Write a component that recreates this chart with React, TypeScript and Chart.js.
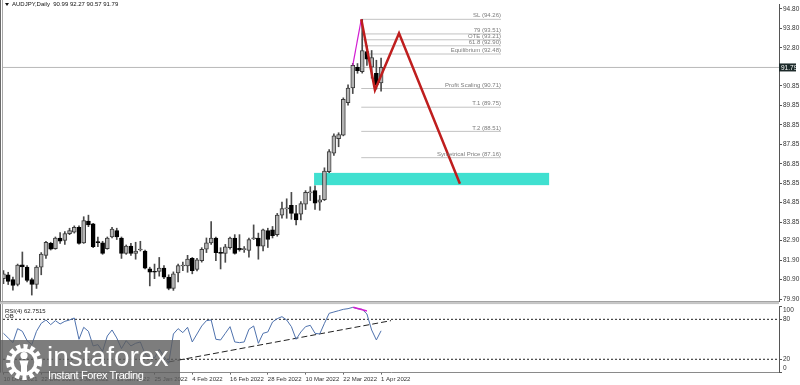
import React, { useEffect, useRef } from 'react';
import { Chart, registerables } from 'chart.js';

Chart.register(...registerables);

const FONT = '"Liberation Sans", Arial, sans-serif';

// ---- data ----
const dateTickBars = [0, 8, 16, 24, 32, 40, 48, 56, 64, 72, 80];
const dateLabels = ['10 Dec 2021', '22 Dec 2021', '3 Jan 2022', '13 Jan 2022', '25 Jan 2022', '4 Feb 2022', '16 Feb 2022', '28 Feb 2022', '10 Mar 2022', '22 Mar 2022', '1 Apr 2022'];

const opens = [80.95, 81.15, 80.90, 80.65, 81.66, 81.54, 80.91, 80.65, 81.54, 82.15, 82.76, 82.49, 83.04, 82.92, 83.26, 83.34, 83.59, 82.79, 83.91, 83.76, 82.82, 82.79, 82.49, 83.09, 83.42, 83.04, 82.25, 82.62, 82.25, 82.42, 82.37, 81.45, 81.30, 81.32, 81.49, 81.03, 80.45, 81.25, 81.60, 81.60, 81.99, 81.42, 81.87, 82.46, 82.79, 83.04, 82.27, 82.25, 82.54, 83.04, 82.51, 82.44, 82.40, 83.00, 83.04, 82.62, 83.42, 83.46, 83.21, 84.21, 84.53, 84.71, 84.29, 84.26, 84.77, 85.35, 85.47, 84.88, 85.00, 86.44, 87.39, 88.14, 88.31, 89.98, 90.74, 91.79, 91.57, 92.60, 91.80, 91.49, 90.99];
const highs = [81.37, 81.28, 81.03, 81.70, 82.32, 81.62, 80.98, 81.62, 82.29, 82.87, 82.82, 83.09, 83.32, 83.37, 83.54, 83.66, 83.66, 84.13, 84.21, 83.79, 83.09, 82.87, 83.09, 83.59, 83.54, 83.09, 82.68, 82.76, 82.82, 82.87, 82.42, 81.54, 81.70, 82.04, 81.62, 81.15, 81.30, 81.70, 81.80, 82.15, 82.04, 82.00, 82.54, 83.04, 83.88, 83.09, 82.54, 82.71, 83.09, 83.21, 83.21, 82.60, 83.04, 83.71, 83.29, 83.49, 83.54, 83.63, 84.30, 84.88, 85.05, 85.38, 84.71, 84.91, 85.47, 85.67, 85.72, 85.22, 86.64, 87.57, 88.39, 88.44, 90.23, 90.90, 92.00, 91.99, 94.26, 92.90, 92.66, 92.16, 92.27];
const lows = [80.70, 80.65, 80.36, 80.58, 81.03, 80.78, 80.11, 80.45, 81.15, 81.99, 82.42, 82.46, 82.76, 82.71, 83.21, 83.29, 82.72, 82.76, 83.62, 82.54, 82.59, 82.20, 82.46, 83.04, 82.96, 81.99, 82.20, 82.15, 81.95, 82.37, 81.45, 80.58, 80.95, 81.08, 80.95, 80.38, 80.35, 80.78, 81.36, 81.28, 81.20, 81.35, 81.80, 82.29, 82.71, 81.87, 81.45, 81.79, 82.46, 82.21, 82.36, 82.30, 82.05, 82.96, 81.95, 82.37, 82.55, 83.04, 83.13, 84.05, 84.05, 84.00, 83.71, 83.96, 84.50, 84.96, 84.50, 84.46, 84.96, 86.39, 87.27, 87.72, 88.28, 89.85, 90.45, 91.49, 91.50, 91.90, 91.24, 90.68, 90.57];
const closes = [81.20, 80.81, 80.60, 81.65, 81.55, 80.86, 80.65, 81.54, 82.21, 82.82, 82.46, 83.04, 82.87, 83.26, 83.42, 83.59, 82.76, 83.93, 83.71, 82.59, 82.80, 82.25, 83.04, 83.49, 83.09, 82.25, 82.62, 82.25, 82.37, 82.45, 81.49, 81.28, 81.28, 81.49, 81.03, 80.45, 81.20, 81.62, 81.64, 81.95, 81.36, 81.92, 82.46, 82.79, 83.04, 82.29, 82.25, 82.59, 83.04, 82.25, 82.42, 82.47, 82.96, 83.04, 82.62, 83.46, 82.96, 83.16, 84.21, 84.55, 84.56, 84.30, 83.96, 84.81, 85.38, 85.38, 84.83, 85.00, 86.47, 87.47, 88.28, 88.34, 90.15, 90.73, 91.90, 91.62, 92.66, 92.22, 92.30, 90.90, 91.79];

const rsiValues = [59, 52, 45, 66, 62, 48, 42, 62, 74, 79, 72, 78, 73, 77, 79, 82, 50, 68, 62, 40, 42, 32, 55, 64, 52, 36, 48, 40, 44, 46, 28, 22, 22, 35, 24, 14, 58, 66, 60, 68, 46, 58, 70, 78, 79, 50, 49, 59, 69, 46, 45, 46, 65, 70, 44, 59, 61, 76, 81, 84, 79, 69, 50, 61, 69, 71, 59, 58, 74, 89, 91, 93, 95, 96, 98, 96, 95, 88, 64, 49, 62.7515];

const priceTicks = [94.8, 93.8, 92.8, 90.85, 89.85, 88.85, 87.85, 86.85, 85.85, 84.85, 83.85, 82.9, 81.9, 80.9, 79.9];
const lastPrice = 91.79;

const fibNames = ['SL', '79', 'OTE', '61.8', 'Equilibrium', 'Profit Scaling', 'T.1', 'T.2', 'Symetrical Price'];
const fibLevels = [94.26, 93.51, 93.21, 92.9, 92.48, 90.71, 89.75, 88.51, 87.16];
const fibFromBar = 75.8;
const fibToBar = 105.4;

const zigzagBars = [75.8, 78.7, 83.8, 96.7];
const zigzagPrices = [94.26, 90.63, 93.54, 85.82];
const impulseBars = [74, 75.8];
const impulsePrices = [91.9, 94.26];

const zoneBars = [65.8, 115.6];
const zonePrices = [85.75, 86.38];

const rsiLevels = [80, 20];
const rsiTrendBars = [35, 82.1];
const rsiTrendValues = [16, 78];
const rsiDivBars = [74.1, 77];
const rsiDivValues = [98, 92.4];

const X_MIN = -0.1;
const X_MAX = 164.3;
const P_MIN = 79.8;
const P_MAX = 95.0;

// ---- helpers ----
const drawLeftBorder = (ctx: CanvasRenderingContext2D, h: number) => {
  ctx.fillStyle = '#6a6a6a';
  ctx.fillRect(0, 0, 1, h);
  ctx.fillStyle = '#a8a8a8';
  ctx.fillRect(2, 0, 1, h);
};

const mainDecor = {
  id: 'mainDecor',
  beforeDatasetsDraw(chart: any) {
    const { ctx, scales } = chart;
    const x = scales.x, y = scales.y;
    const x0 = x.getPixelForValue(zoneBars[0]);
    const x1 = x.getPixelForValue(zoneBars[1]);
    const y0 = y.getPixelForValue(zonePrices[1]);
    const y1 = y.getPixelForValue(zonePrices[0]);
    ctx.save();
    ctx.fillStyle = '#40e0d0';
    ctx.fillRect(x0, y0, x1 - x0, y1 - y0);
    ctx.restore();
  },
  afterDraw(chart: any) {
    const { ctx, scales, chartArea } = chart;
    const x = scales.x, y = scales.y;
    ctx.save();
    drawLeftBorder(ctx, chart.height);
    // bottom border of main panel
    ctx.fillStyle = '#9a9a9a';
    ctx.fillRect(0, chartArea.bottom, chartArea.right, 1);
    ctx.fillStyle = '#c4c4c4';
    ctx.fillRect(0, chartArea.bottom + 1, chartArea.right, 2);

    // fib labels
    ctx.font = `6px ${FONT}`;
    ctx.fillStyle = '#7c7c7c';
    ctx.textAlign = 'right';
    ctx.textBaseline = 'bottom';
    const xr = x.getPixelForValue(fibToBar);
    fibLevels.forEach((lv, i) => {
      ctx.fillText(`${fibNames[i]} (${lv.toFixed(2)})`, xr, y.getPixelForValue(lv) - 0.5);
    });

    // title
    const n = opens.length - 1;
    ctx.fillStyle = '#111';
    ctx.beginPath();
    ctx.moveTo(5, 3);
    ctx.lineTo(9, 3);
    ctx.lineTo(7, 6);
    ctx.closePath();
    ctx.fill();
    ctx.font = `6px ${FONT}`;
    ctx.textAlign = 'left';
    ctx.textBaseline = 'middle';
    ctx.fillText(`AUDJPY,Daily  ${opens[n].toFixed(2)} ${highs[n].toFixed(2)} ${lows[n].toFixed(2)} ${closes[n].toFixed(2)}`, 12, 4.5);

    // last price label
    const py = y.getPixelForValue(lastPrice);
    ctx.fillStyle = '#1d2a2a';
    ctx.fillRect(chartArea.right, py - 4, 17, 8);
    ctx.fillStyle = '#ffffff';
    ctx.font = `6.5px ${FONT}`;
    ctx.fillText(lastPrice.toFixed(2), chartArea.right + 2, py + 0.5);
    ctx.restore();
  },
};

const rsiDecor = {
  id: 'rsiDecor',
  afterDraw(chart: any) {
    const { ctx, scales, chartArea } = chart;
    const y = scales.y;
    ctx.save();
    drawLeftBorder(ctx, chartArea.bottom);
    ctx.font = `6px ${FONT}`;
    ctx.fillStyle = '#222';
    ctx.textAlign = 'left';
    ctx.textBaseline = 'middle';
    ctx.fillText(`RSI(4) ${rsiValues[rsiValues.length - 1].toFixed(4)}`, 5, 5.5);
    ctx.fillText('OB', 5, 10.5);
    ctx.fillStyle = '#333';
    ctx.font = `6.5px ${FONT}`;
    const xl = chartArea.right + 4;
    ctx.fillText('100', xl, y.getPixelForValue(100) + 4);
    ctx.fillText('80', xl, y.getPixelForValue(80));
    ctx.fillText('20', xl, y.getPixelForValue(20));
    ctx.fillText('0', xl, y.getPixelForValue(0) - 4.5);
    ctx.restore();
  },
};

const pts = (xs: number[], ys: number[]) => xs.map((v, i) => ({ x: v, y: ys[i] }));

export default function App() {
  const mainRef = useRef<HTMLCanvasElement>(null);
  const rsiRef = useRef<HTMLCanvasElement>(null);

  useEffect(() => {
    const bull = closes.map((c, i) => c >= opens[i]);
    const bodyData = opens.map((o, i) => ({ x: i, y: [Math.min(o, closes[i]), Math.max(o, closes[i])] }));
    const wickData = opens.map((_, i) => ({ x: i, y: [lows[i], highs[i]] }));

    const main = new Chart(mainRef.current as HTMLCanvasElement, {
      type: 'bar',
      data: {
        datasets: [
          { type: 'line', data: pts(zigzagBars, zigzagPrices), borderColor: '#bf1e1e', borderWidth: 2.5, pointRadius: 0, order: 0 } as any,
          { type: 'line', data: pts(impulseBars, impulsePrices), borderColor: '#d21ed2', borderWidth: 1.2, pointRadius: 0, order: 0 } as any,
          {
            type: 'bar', data: bodyData,
            backgroundColor: bull.map((b) => (b ? '#b3b3b3' : '#000000')),
            borderColor: bull.map((b) => (b ? '#3c3c3c' : '#000000')),
            borderWidth: 1, barThickness: 4, minBarLength: 1, grouped: false, borderSkipped: false, order: 1,
          } as any,
          { type: 'bar', data: wickData, backgroundColor: '#4a4a4a', barThickness: 1, grouped: false, order: 2 } as any,
          ...fibLevels.map((lv) => ({ type: 'line', data: pts([fibFromBar, fibToBar], [lv, lv]), borderColor: '#c2c2c2', borderWidth: 1, pointRadius: 0, order: 3 } as any)),
          { type: 'line', data: pts([X_MIN, X_MAX], [lastPrice, lastPrice]), borderColor: '#b8b8b8', borderWidth: 1, pointRadius: 0, order: 4 } as any,
        ],
      },
      options: {
        responsive: false,
        maintainAspectRatio: false,
        animation: false,
        events: [],
        layout: { padding: { left: 3, right: 0, top: 0, bottom: 3 } },
        plugins: { legend: { display: false }, tooltip: { enabled: false } },
        scales: {
          x: { type: 'linear', min: X_MIN, max: X_MAX, display: false, offset: false },
          y: {
            type: 'linear', position: 'right', min: P_MIN, max: P_MAX, bounds: 'data',
            afterBuildTicks: (s: any) => { s.ticks = priceTicks.map((v) => ({ value: v })); },
            afterFit: (s: any) => { s.width = 21; },
            ticks: { font: { size: 6.5, family: FONT }, color: '#333', padding: 1, callback: (v: any) => Number(v).toFixed(2) },
            grid: { drawOnChartArea: false, tickLength: 3, color: '#555' },
            border: { color: '#555' },
          },
        },
      } as any,
      plugins: [mainDecor],
    });

    const rsi = new Chart(rsiRef.current as HTMLCanvasElement, {
      type: 'line',
      data: {
        datasets: [
          { data: pts(rsiDivBars, rsiDivValues), borderColor: '#d21ed2', borderWidth: 1.5, pointRadius: 0, order: 0 },
          { data: rsiValues.map((v, i) => ({ x: i, y: v })), borderColor: '#4f72ad', borderWidth: 1, pointRadius: 0, order: 1 },
          { data: pts(rsiTrendBars, rsiTrendValues), borderColor: '#222', borderWidth: 1, borderDash: [6, 3], pointRadius: 0, order: 2 },
          ...rsiLevels.map((lv) => ({ data: pts([X_MIN, X_MAX], [lv, lv]), borderColor: '#222', borderWidth: 1, borderDash: [2, 2], pointRadius: 0, order: 3 })),
        ] as any,
      },
      options: {
        responsive: false,
        maintainAspectRatio: false,
        animation: false,
        events: [],
        layout: { padding: { left: 3, right: 0, top: 0, bottom: 0 } },
        plugins: { legend: { display: false }, tooltip: { enabled: false } },
        scales: {
          x: {
            type: 'linear', min: X_MIN, max: X_MAX, offset: false, bounds: 'data',
            afterBuildTicks: (s: any) => { s.ticks = dateTickBars.map((v) => ({ value: v })); },
            afterFit: (s: any) => { s.height = 12.4; },
            ticks: {
              autoSkip: false, maxRotation: 0, minRotation: 0, align: 'start',
              font: { size: 6, family: FONT }, color: '#333', padding: 1,
              callback: (v: any) => { const k = dateTickBars.indexOf(Number(v)); return k >= 0 ? dateLabels[k] : ''; },
            },
            grid: { drawOnChartArea: false, tickLength: 2, color: '#666' },
            border: { color: '#8a8a8a' },
          },
          y: {
            type: 'linear', position: 'right', min: 0, max: 100, bounds: 'data',
            afterBuildTicks: (s: any) => { s.ticks = [0, 20, 80, 100].map((v) => ({ value: v })); },
            afterFit: (s: any) => { s.width = 21; },
            ticks: { display: false },
            grid: { drawOnChartArea: false, tickLength: 3, color: '#555' },
            border: { color: '#555' },
          },
        },
      } as any,
      plugins: [rsiDecor],
    });

    return () => { main.destroy(); rsi.destroy(); };
  }, []);

  return (
    <div style={{ position: 'fixed', left: 0, top: 0, width: 800, height: 385, background: '#fff', overflow: 'hidden' }}>
      <canvas ref={mainRef} width={800} height={306} style={{ position: 'absolute', left: 0, top: 0, width: 800, height: 306 }} />
      <canvas ref={rsiRef} width={800} height={79} style={{ position: 'absolute', left: 0, top: 306, width: 800, height: 79 }} />
      <div style={{ position: 'absolute', left: 0, top: 340, width: 180, height: 45, background: 'rgba(92,92,92,0.8)' }} />
      <svg style={{ position: 'absolute', left: 5, top: 343 }} width={38} height={38} viewBox="0 0 38 38">
        <circle cx="19" cy="19" r="15.5" fill="none" stroke="#fff" strokeWidth="5" strokeDasharray="4.2 3" />
        <circle cx="19" cy="19" r="12" fill="none" stroke="#fff" strokeWidth="3.5" />
        <circle cx="19" cy="12.5" r="3.6" fill="#fff" />
        <path d="M14.5 17.5 H23.5 L22 23 L22 31 H16 L16 23 Z" fill="#fff" />
      </svg>
      <div style={{ position: 'absolute', left: 47, top: 343, fontFamily: FONT, fontSize: 28, lineHeight: '28px', color: '#fff', whiteSpace: 'nowrap' }}>instaforex</div>
      <div style={{ position: 'absolute', left: 48, top: 370, fontFamily: FONT, fontSize: 11, lineHeight: '11px', letterSpacing: '-0.4px', color: '#fff', whiteSpace: 'nowrap' }}>Instant Forex Trading</div>
    </div>
  );
}
